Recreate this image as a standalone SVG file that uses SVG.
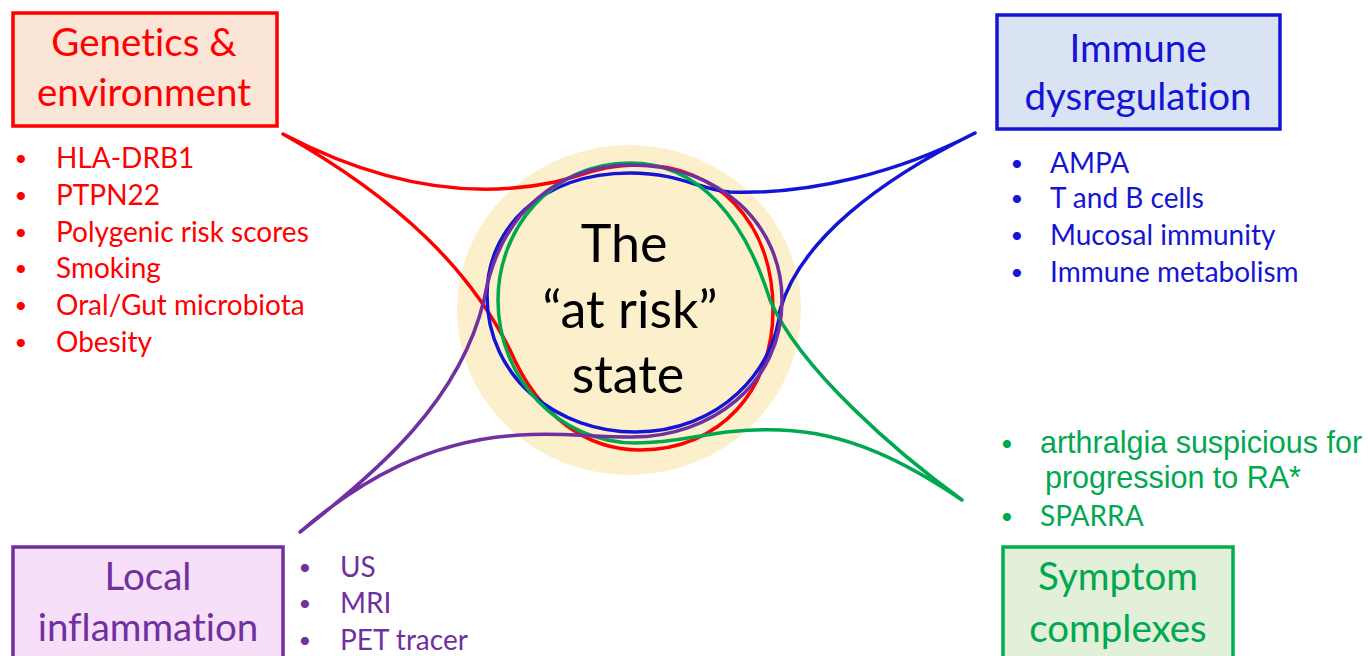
<svg xmlns="http://www.w3.org/2000/svg" width="1368" height="656" viewBox="0 0 1368 656">
<style>
text{font-variant-ligatures:none}
.box{stroke-width:3.5}
.title{font-family:Lato,"Open Sans",sans-serif;font-size:38.5px;text-anchor:middle}
.item{font-family:Lato,"Open Sans",sans-serif;font-size:28px}
.bul{font-family:Lato,"Open Sans",sans-serif;font-size:22px;text-anchor:middle}
.arial{font-family:"Liberation Sans",Arial,sans-serif;font-size:30.5px}
.loop{fill:none;stroke-width:3.5;stroke-linejoin:round}
.center{font-family:Lato,"Open Sans",sans-serif;font-size:52px;text-anchor:middle;fill:#000}
</style>
<rect width="1368" height="656" fill="#fff"/>
<g id="center-state">
<ellipse cx="629" cy="310" rx="172" ry="165" fill="#FCEFCB"/>
</g>
<g id="connectors">
<path class="loop" stroke="#FF0000" d="M283,134 C400,200 470,270 510,350 C540,420 590,450 640,450 C720,450 773,390 773,310 C773,220 715,165 640,165 C600,165 585,175 555,182 C470,200 380,185 283,134 Z"/>
<path class="loop" stroke="#1414D6" d="M975,133 C900,172 810,195 730,192 C700,190 680,173 630,173 C540,173 487,230 487,295 C487,380 560,432 635,432 C720,432 775,370 780,310 C800,240 880,180 975,133 Z"/>
<path class="loop" stroke="#00A84F" d="M962,500 C900,455 800,370 770,300 C745,220 700,163 630,163 C550,163 498,230 498,300 C498,380 560,443 635,443 C690,443 710,428 780,430 C850,432 910,465 962,500 Z"/>
<path class="loop" stroke="#7030A0" d="M300,532 C380,470 460,400 484,300 C500,210 560,165 632,165 C720,165 782,225 782,300 C782,385 710,437 632,437 C590,437 560,432 520,435 C430,440 360,480 300,532 Z"/>
</g>
<g id="center-label">
<text class="center" x="624" y="262">The</text>
<text class="center" x="630" y="328">“at risk”</text>
<text class="center" x="628" y="393">state</text>
</g>
<g id="genetics" fill="#FF0000">
<rect class="box" x="13" y="13" width="264" height="113" fill="#FBE5D6" stroke="#FF0000"/>
<text class="title" x="144" y="56">Genetics &amp;</text>
<text class="title" x="144" y="106">environment</text>
<g class="bul">
<text x="21" y="166">•</text><text x="21" y="203">•</text><text x="21" y="240">•</text><text x="21" y="276">•</text><text x="21" y="313">•</text><text x="21" y="350">•</text>
</g>
<g class="item">
<text x="56" y="168">HLA-DRB1</text>
<text x="56" y="205">PTPN22</text>
<text x="56" y="242">Polygenic risk scores</text>
<text x="56" y="278">Smoking</text>
<text x="56" y="315">Oral/Gut microbiota</text>
<text x="56" y="352">Obesity</text>
</g>
</g>
<g id="immune" fill="#1414D6">
<rect class="box" x="997" y="15" width="283" height="114" fill="#DAE3F3" stroke="#1414D6"/>
<text class="title" x="1138" y="62">Immune</text>
<text class="title" x="1138" y="110">dysregulation</text>
<g class="bul">
<text x="1017" y="171">•</text><text x="1017" y="206">•</text><text x="1017" y="243">•</text><text x="1017" y="280">•</text>
</g>
<g class="item">
<text x="1050" y="173">AMPA</text>
<text x="1050" y="208">T and B cells</text>
<text x="1050" y="245">Mucosal immunity</text>
<text x="1050" y="282">Immune metabolism</text>
</g>
</g>
<g id="symptom" fill="#00A84F">
<rect class="box" x="1003" y="547" width="230" height="130" fill="#E2F0D9" stroke="#00B050"/>
<text class="title" x="1118" y="590">Symptom</text>
<text class="title" x="1118" y="642">complexes</text>
<text class="bul" x="1007" y="451">•</text><text class="arial" x="1040" y="453">arthralgia suspicious for</text>
<text class="arial" x="1045" y="488">progression to RA*</text>
<text class="bul" x="1007" y="524">•</text><text class="item" x="1040" y="526">SPARRA</text>
</g>
<g id="local" fill="#7030A0">
<rect class="box" x="13" y="547" width="270" height="130" fill="#F7DEF9" stroke="#7030A0"/>
<text class="title" x="148" y="590">Local</text>
<text class="title" x="148" y="641">inflammation</text>
<g class="bul">
<text x="305" y="575">•</text><text x="305" y="611">•</text><text x="305" y="648">•</text>
</g>
<g class="item">
<text x="340" y="577">US</text>
<text x="340" y="613">MRI</text>
<text x="340" y="650">PET tracer</text>
</g>
</g>
</svg>
